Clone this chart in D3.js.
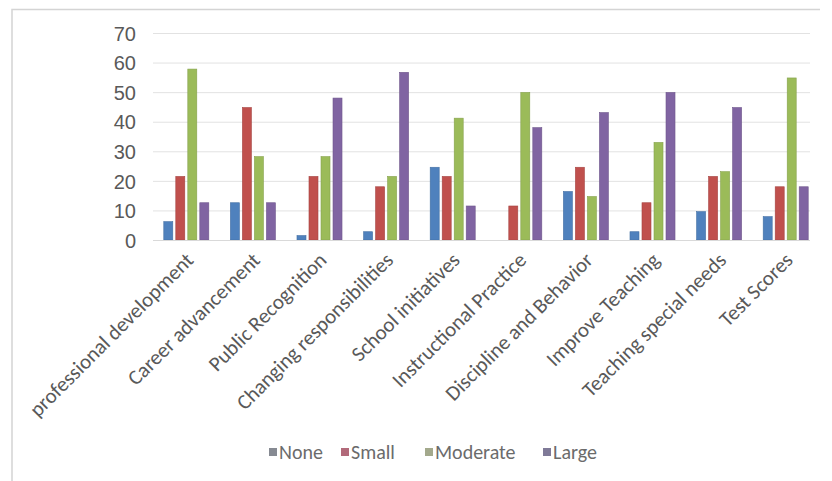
<!DOCTYPE html>
<html>
<head>
<meta charset="utf-8">
<title>Impact by category</title>
<style>
body { margin: 0; background: #fff; }
svg { display: block; font-family: Carlito, Calibri, Lato, sans-serif; }
.tick text { fill: #595959; }
.legend text { fill: #6b6b6b; }
</style>
</head>
<body>
<svg></svg>
<script src="https://d3js.org/d3.v7.min.js"></script>
<script>
const categories = ['professional development', 'Career advancement', 'Public Recognition',
  'Changing responsibilities', 'School initiatives', 'Instructional Practice',
  'Discipline and Behavior', 'Improve Teaching', 'Teaching special needs', 'Test Scores'];
const series = ['None', 'Small', 'Moderate', 'Large'];
const none     = [6.2, 12.6, 1.5, 2.8, 24.6, 0, 16.4, 2.8, 9.6, 7.9];
const small    = [21.5, 44.8, 21.5, 18, 21.5, 11.5, 24.6, 12.6, 21.5, 18];
const moderate = [57.8, 28.2, 28.2, 21.5, 41.2, 49.9, 14.7, 33, 23.1, 54.8];
const large    = [12.6, 12.6, 48, 56.7, 11.5, 38, 43.1, 49.9, 44.8, 18];
const yTicks = [0, 10, 20, 30, 40, 50, 60, 70];

const colors = ['#4f81bd', '#c0504d', '#9bbb59', '#8064a2'];
const legendColors = ['#868a92', '#b26a7a', '#a3a98c', '#7f7a98'];

const W = 832, H = 481;
const svg = d3.select('svg').attr('width', W).attr('height', H);

// frame of the pasted chart
svg.append('path')
   .attr('d', `M12,${H} V9.5 H820`)
   .attr('fill', 'none')
   .attr('stroke', '#d4d4d4')
   .attr('stroke-width', 1.5);

const x0 = d3.scaleBand(categories, [153, 819]).paddingInner(0.324).paddingOuter(0.162);
const x1 = d3.scaleBand(series, [0, x0.bandwidth()]).paddingInner(0.25);
const y = d3.scaleLinear([0, 70], [240, 33]);

const rows = categories.map((c, i) => ({ cat: c, vals: [none[i], small[i], moderate[i], large[i]] }));

// gridlines
svg.append('g')
   .selectAll('line')
   .data(yTicks.slice(1))
   .join('line')
   .attr('x1', 153).attr('x2', 810)
   .attr('y1', d => y(d) + 0.5).attr('y2', d => y(d) + 0.5)
   .attr('stroke', '#e2e2e2');

// y axis labels
svg.append('g')
   .attr('transform', 'translate(136,0)')
   .call(d3.axisLeft(y).tickValues(yTicks).tickSize(0).tickPadding(0))
   .call(g => g.select('.domain').remove())
   .selectAll('text')
   .style('font-size', '20px')
   .attr('dy', '0.36em');

// bars
const grp = svg.append('g')
   .selectAll('g')
   .data(rows)
   .join('g')
   .attr('transform', d => `translate(${x0(d.cat)},0)`);

grp.selectAll('rect')
   .data(d => d.vals.map((v, k) => ({ s: series[k], v, k })))
   .join('rect')
   .attr('x', d => x1(d.s))
   .attr('width', x1.bandwidth())
   .attr('y', d => y(d.v))
   .attr('height', d => y(0) - y(d.v))
   .attr('fill', d => colors[d.k])
   .attr('stroke', d => d3.color(colors[d.k]).darker(0.4))
   .attr('stroke-width', 0.6);

// baseline
svg.append('line')
   .attr('x1', 153).attr('x2', 810)
   .attr('y1', 240.5).attr('y2', 240.5)
   .attr('stroke', '#d9d9d9');

// category labels, rotated
svg.append('g')
   .attr('class', 'tick')
   .selectAll('text')
   .data(categories)
   .join('text')
   .attr('transform', d => `translate(${x0(d) + x0.bandwidth() / 2 - 2},251) rotate(-45)`)
   .attr('text-anchor', 'end')
   .attr('dy', '0.7em')
   .style('font-size', '21px')
   .text(d => d);

// legend
const legX = [269, 341, 425, 543];
const leg = svg.append('g').attr('class', 'legend')
   .selectAll('g')
   .data(series)
   .join('g')
   .attr('transform', (d, i) => `translate(${legX[i]},452)`);
leg.append('rect')
   .attr('x', 0).attr('y', -4).attr('width', 8).attr('height', 8)
   .attr('fill', (d, i) => legendColors[i]);
leg.append('text')
   .attr('x', 10).attr('dy', '0.35em')
   .style('font-size', '20px')
   .text(d => d);
</script>
</body>
</html>
